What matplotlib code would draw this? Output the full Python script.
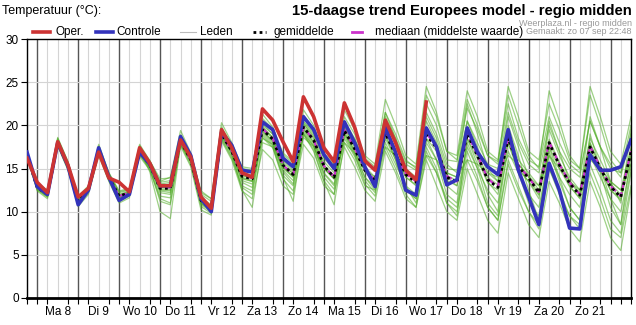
import numpy as np
import matplotlib
matplotlib.use("Agg")
import matplotlib.pyplot as plt

plt.rcParams['font.family'] = ['Liberation Sans', 'DejaVu Sans']

# 6-hourly steps, starting zo 7 sep 18:00
day_labels = ["Ma 8", "Di 9", "Wo 10", "Do 11", "Vr 12", "Za 13", "Zo 14",
              "Ma 15", "Di 16", "Wo 17", "Do 18", "Vr 19", "Za 20", "Zo 21"]

oper = [16.2, 13.4, 12.2, 18.1, 15.4, 11.7, 12.7, 16.9, 13.9, 13.4, 12.3, 17.4, 15.6,
        13.0, 13.0, 18.3, 16.3, 11.7, 10.4, 19.5, 17.4, 14.5, 14.0, 21.9, 20.6, 18.1,
        15.8, 23.3, 21.0, 17.4, 15.8, 22.6, 19.8, 15.9, 14.8, 20.6, 18.0, 14.8, 13.7, 22.7]

controle = [16.9, 12.9, 12.0, 18.0, 15.3, 10.8, 12.5, 17.4, 14.0, 11.3, 12.0, 16.9, 15.5,
            13.0, 13.0, 18.7, 16.5, 11.5, 10.0, 19.2, 17.7, 14.8, 14.6, 20.4, 19.5, 16.2,
            15.2, 21.0, 19.5, 16.6, 15.0, 20.4, 18.0, 15.2, 12.9, 19.8, 16.9, 12.5, 11.9,
            19.7, 17.5, 13.1, 13.7, 19.7, 16.9, 15.2, 14.3, 19.5, 14.8, 11.7, 8.5, 15.6,
            12.5, 8.1, 8.0, 16.6, 14.8, 14.8, 15.2, 18.3]

gemiddelde = [16.5, 12.8, 12.0, 18.0, 15.3, 11.2, 12.6, 17.0, 14.0, 11.8, 12.2, 17.0, 15.4,
              12.7, 12.7, 18.2, 16.0, 11.3, 10.4, 19.0, 17.0, 14.1, 13.8, 19.5, 18.4, 15.4,
              14.3, 19.8, 18.3, 15.3, 14.0, 19.4, 17.3, 14.8, 13.6, 19.1, 16.6, 14.3, 13.4,
              18.9, 17.4, 14.0, 13.4, 19.0, 16.5, 13.7, 12.8, 18.5, 15.2, 13.9, 12.2, 18.0,
              15.4, 13.3, 11.9, 17.5, 15.0, 12.9, 11.7, 16.9]

mediaan = [16.5, 12.8, 12.0, 18.0, 15.3, 11.2, 12.6, 17.0, 14.0, 11.8, 12.2, 17.0, 15.4,
           12.8, 12.8, 18.2, 16.0, 11.3, 10.4, 19.0, 17.0, 14.2, 13.9, 19.6, 18.5, 15.4,
           14.3, 19.8, 18.3, 15.3, 14.0, 19.5, 17.4, 14.9, 13.6, 19.2, 16.7, 14.4, 13.5,
           19.1, 17.5, 14.1, 13.5, 19.0, 16.6, 13.8, 12.9, 18.6, 15.3, 14.0, 12.3, 18.1,
           15.5, 13.4, 12.0, 17.6, 15.1, 13.0, 11.8, 17.0]

leden = [
    [16.6, 13.2, 12.4, 18.4, 15.6, 11.6, 12.9, 17.4, 14.4, 12.3, 12.6, 17.6, 15.8,
     13.4, 13.6, 18.9, 16.6, 12.0, 11.2, 19.8, 17.8, 15.0, 14.8, 20.8, 19.6, 16.6, 15.6,
     21.2, 19.6, 16.4, 15.4, 21.0, 19.0, 16.2, 15.2, 21.5, 18.5, 15.8, 15.2, 22.5, 20.0,
     16.0, 15.8, 22.0, 19.5, 16.5, 15.8, 22.5, 18.5, 16.0, 15.2, 21.0, 18.0, 15.5, 14.5,
     20.5, 17.5, 15.5, 14.0, 19.0],
    [16.3, 12.4, 11.5, 17.6, 14.8, 10.6, 12.0, 16.5, 13.5, 11.0, 11.6, 16.4, 14.8,
     11.5, 11.0, 17.6, 15.2, 10.2, 9.6, 18.2, 16.0, 12.4, 11.5, 17.2, 16.0, 13.0, 12.0,
     17.8, 16.2, 13.0, 12.0, 17.5, 15.2, 12.5, 11.2, 17.0, 14.5, 11.5, 10.5, 16.5, 14.5,
     11.0, 10.0, 16.0, 13.5, 10.5, 9.0, 15.5, 12.5, 10.0, 8.0, 15.0, 12.0, 9.5, 8.5,
     14.5, 11.5, 8.0, 7.0, 13.0],
    [16.4, 12.6, 11.8, 18.2, 15.2, 11.0, 12.4, 17.2, 13.8, 11.4, 12.0, 17.2, 14.6,
     10.0, 9.2, 17.8, 15.8, 11.0, 10.2, 19.2, 16.8, 12.5, 10.5, 18.0, 17.5, 14.0, 11.2,
     19.0, 17.0, 13.5, 10.8, 18.0, 16.0, 13.0, 12.5, 19.5, 17.0, 13.0, 11.0, 17.5, 15.0,
     11.0, 9.5, 18.5, 15.5, 12.0, 10.0, 20.0, 16.5, 12.5, 9.0, 17.0, 13.5, 10.5, 9.0,
     19.0, 15.0, 11.5, 8.5, 15.0],
    [16.7, 13.0, 12.2, 17.9, 15.4, 11.4, 12.7, 17.0, 14.2, 12.0, 12.4, 17.2, 15.6,
     13.2, 13.4, 18.5, 16.4, 11.6, 10.8, 19.5, 17.4, 14.6, 14.2, 20.2, 19.0, 16.0, 14.8,
     20.5, 19.2, 16.2, 14.8, 20.5, 18.5, 15.8, 14.8, 21.5, 19.0, 16.0, 15.0, 23.5, 21.0,
     17.0, 16.5, 24.0, 21.0, 17.0, 16.0, 23.5, 20.0, 16.5, 15.0, 24.0, 20.5, 16.5, 15.0,
     23.5, 20.0, 16.0, 14.5, 20.0],
    [16.5, 12.7, 11.8, 18.1, 15.2, 11.1, 12.5, 16.9, 13.9, 11.6, 12.1, 16.9, 15.2,
     12.4, 12.2, 18.0, 15.9, 11.0, 10.0, 18.8, 16.6, 13.6, 13.2, 19.2, 18.0, 14.8, 13.6,
     19.2, 17.6, 14.5, 13.2, 18.5, 16.4, 13.6, 12.2, 17.5, 15.0, 12.0, 10.5, 16.0, 13.0,
     10.0, 9.0, 15.0, 12.0, 9.0, 7.5, 14.5, 11.5, 8.5, 7.0, 13.5, 11.0, 8.0, 6.5,
     13.5, 10.5, 7.0, 5.5, 12.5],
    [16.6, 12.9, 12.1, 18.0, 15.3, 11.3, 12.7, 17.1, 14.1, 11.9, 12.3, 17.1, 15.5,
     13.0, 13.2, 18.4, 16.2, 11.6, 10.6, 19.0, 17.2, 14.4, 14.0, 19.8, 18.6, 15.8, 14.6,
     20.2, 18.8, 15.8, 14.5, 19.8, 17.8, 15.2, 14.0, 20.0, 17.0, 14.5, 13.8, 20.5, 18.0,
     14.5, 14.0, 20.5, 17.5, 14.5, 13.5, 19.5, 16.0, 14.5, 13.0, 19.5, 16.5, 14.0, 12.5,
     18.5, 16.0, 13.5, 12.5, 17.5],
    [16.4, 12.9, 12.1, 17.8, 15.1, 11.2, 12.5, 16.8, 14.0, 11.8, 12.1, 16.6, 15.2,
     12.8, 12.6, 17.8, 16.0, 11.5, 10.5, 18.6, 16.8, 13.8, 13.5, 18.5, 17.8, 15.0, 14.0,
     18.6, 17.5, 15.0, 13.8, 18.0, 16.8, 14.8, 14.0, 17.5, 16.5, 14.5, 13.8, 16.5, 16.0,
     14.5, 14.0, 16.0, 15.5, 14.5, 14.0, 16.5, 15.5, 14.0, 13.0, 16.5, 15.0, 13.5, 12.5,
     16.0, 15.0, 13.5, 12.5, 15.5],
    [16.5, 13.1, 12.3, 18.6, 15.8, 11.5, 12.8, 17.8, 14.5, 12.2, 12.5, 17.8, 15.9,
     13.5, 14.0, 19.4, 16.8, 12.4, 11.5, 20.3, 18.0, 15.2, 15.0, 21.3, 19.8, 16.8, 15.8,
     21.8, 20.0, 16.8, 15.5, 21.8, 19.5, 16.5, 15.5, 23.0, 20.0, 16.5, 15.5, 24.5, 21.5,
     17.0, 16.0, 23.0, 20.0, 16.5, 15.5, 24.5, 21.0, 17.0, 16.0, 22.5, 19.5, 16.0, 15.0,
     24.5, 21.0, 17.0, 15.5, 21.0],
    [16.5, 12.5, 11.7, 17.7, 14.9, 10.8, 12.2, 16.7, 13.6, 11.2, 11.8, 16.6, 14.9,
     11.8, 11.6, 17.8, 15.4, 10.6, 9.8, 18.4, 16.2, 12.8, 12.0, 18.6, 17.4, 13.8, 12.4,
     19.0, 17.2, 13.6, 12.0, 19.0, 16.8, 13.2, 11.8, 19.0, 16.0, 12.5, 11.5, 18.5, 16.0,
     12.0, 11.0, 18.0, 15.0, 11.0, 9.5, 18.0, 14.5, 11.0, 9.5, 17.5, 14.0, 10.5, 9.0,
     17.5, 14.5, 10.5, 8.5, 16.5],
    [16.6, 13.0, 12.0, 18.2, 15.5, 11.4, 12.6, 17.2, 14.1, 11.9, 12.2, 17.2, 15.6,
     12.9, 12.8, 18.4, 16.2, 11.2, 10.2, 19.3, 17.2, 14.2, 13.8, 19.8, 18.6, 15.4, 14.4,
     20.2, 18.6, 15.2, 14.0, 19.8, 17.6, 14.8, 13.6, 19.8, 17.0, 14.0, 13.0, 19.5, 17.5,
     14.0, 13.0, 19.5, 16.5, 13.5, 12.0, 18.5, 15.0, 13.5, 11.5, 18.0, 15.5, 13.0, 11.5,
     18.0, 15.0, 12.5, 11.5, 17.0],
    [16.4, 12.8, 12.0, 18.0, 15.3, 11.1, 12.6, 17.0, 14.0, 11.7, 12.2, 16.9, 15.3,
     12.6, 12.5, 18.1, 15.9, 11.2, 10.4, 19.0, 17.0, 14.0, 13.6, 19.4, 18.2, 15.2, 14.0,
     19.6, 18.0, 15.0, 13.8, 20.0, 18.0, 15.0, 13.0, 21.0, 18.5, 15.0, 14.0, 21.5, 19.0,
     15.5, 14.5, 22.5, 19.0, 15.0, 13.5, 21.0, 17.5, 14.0, 12.0, 20.5, 17.0, 13.5, 12.0,
     21.0, 17.5, 13.5, 11.0, 19.5],
    [16.5, 12.7, 11.9, 17.9, 15.2, 11.0, 12.5, 16.9, 13.9, 11.6, 12.1, 16.8, 15.1,
     12.2, 12.0, 18.0, 15.8, 11.0, 10.1, 18.9, 16.8, 13.4, 12.8, 19.0, 17.8, 14.6, 13.2,
     19.4, 17.8, 14.4, 13.0, 19.2, 17.0, 14.0, 12.5, 18.5, 16.0, 12.5, 11.5, 17.0, 14.5,
     11.5, 10.5, 17.0, 14.0, 10.5, 9.0, 16.0, 13.0, 10.0, 8.5, 15.0, 12.5, 9.5, 8.0,
     15.5, 12.5, 9.0, 7.5, 14.5],
    [16.5, 12.9, 12.0, 18.1, 15.4, 11.3, 12.6, 17.1, 14.1, 11.9, 12.3, 17.1, 15.4,
     12.8, 12.9, 18.3, 16.1, 11.4, 10.5, 19.1, 17.1, 14.2, 13.9, 19.6, 18.5, 15.5, 14.4,
     19.9, 18.4, 15.4, 14.1, 19.5, 17.4, 14.9, 13.7, 19.3, 16.8, 14.4, 13.6, 19.2, 17.6,
     14.2, 13.6, 19.4, 16.8, 14.0, 13.1, 18.9, 15.5, 14.2, 12.5, 18.4, 15.7, 13.6, 12.2,
     17.9, 15.3, 13.2, 12.0, 17.2],
    [16.6, 12.7, 11.9, 17.9, 15.2, 11.1, 12.5, 16.9, 13.9, 11.7, 12.1, 16.9, 15.3,
     12.5, 12.4, 18.1, 15.9, 11.2, 10.3, 18.9, 16.9, 13.9, 13.5, 19.3, 18.2, 15.2, 14.1,
     19.6, 18.1, 15.1, 13.8, 19.1, 17.1, 14.6, 13.4, 18.8, 16.3, 14.0, 13.1, 18.5, 17.0,
     13.6, 13.0, 18.5, 16.1, 13.3, 12.5, 18.0, 14.9, 13.5, 11.9, 17.5, 15.0, 12.9, 11.6,
     17.0, 14.7, 12.5, 11.3, 16.5],
    [16.7, 13.3, 12.5, 18.5, 15.8, 11.8, 13.0, 17.6, 14.5, 12.4, 12.7, 17.6, 15.9,
     13.8, 13.9, 18.8, 16.5, 12.2, 11.5, 19.6, 17.6, 14.8, 14.6, 20.0, 19.0, 16.3, 15.2,
     20.4, 19.0, 16.3, 15.2, 20.2, 18.4, 15.8, 15.0, 20.5, 18.0, 15.5, 14.8, 21.0, 18.5,
     15.0, 14.8, 20.5, 18.0, 15.5, 15.0, 21.5, 18.0, 15.5, 14.5, 20.0, 17.0, 15.0, 14.0,
     20.5, 17.5, 15.0, 14.5, 18.5],
    [16.4, 12.6, 11.7, 17.7, 15.0, 10.8, 12.3, 16.8, 13.7, 11.4, 11.9, 16.7, 15.0,
     11.2, 10.8, 17.9, 15.6, 10.8, 10.0, 18.5, 16.4, 13.0, 12.4, 18.8, 17.6, 14.2, 13.0,
     19.0, 17.6, 14.0, 12.6, 18.8, 16.6, 14.0, 12.8, 18.0, 15.5, 13.0, 12.0, 18.0, 16.0,
     13.0, 12.0, 17.5, 15.0, 12.5, 11.0, 17.0, 14.5, 12.0, 10.5, 16.5, 14.0, 12.0, 10.5,
     16.5, 14.0, 11.5, 10.0, 15.5],
]

n_steps = len(controle)
x = np.arange(n_steps)

fig = plt.figure(figsize=(6.36, 3.25), dpi=100)
ax = fig.add_axes([27 / 636, 1 - 298 / 325, 604 / 636, 259 / 325])

# grid: light line every 6 hours, dark line at midnight
for i in x:
    if (i - 1) % 4 == 0:
        ax.axvline(i, color='#555555', lw=1.0, zorder=1)
    else:
        ax.axvline(i, color='#d4d4d4', lw=0.8, zorder=1)
for v in range(5, 30, 5):
    ax.axhline(v, color='#d4d4d4', lw=0.8, zorder=1)

for member in leden:
    ax.plot(x, member, color='#4fac24', lw=0.9, alpha=0.55, zorder=2)

ax.plot(x, mediaan, color='#cc33cc', lw=1.6, dashes=(3, 2), zorder=3)
ax.plot(x, gemiddelde, color='black', lw=2.0, dashes=(1, 1.2), zorder=4)
ax.plot(x, controle, color='#3333bb', lw=2.6, zorder=5)
ax.plot(np.arange(len(oper)), oper, color='#cc3333', lw=2.6, zorder=6)

ax.set_xlim(0, n_steps - 1)
ax.set_ylim(0, 30)
ax.set_yticks(range(0, 31, 5))
ax.tick_params(axis='y', labelsize=8.5, length=4, width=0.8, pad=2)
ax.set_xticks(x, minor=True)
ax.set_xticks([3 + 4 * k for k in range(len(day_labels))])
ax.set_xticklabels(day_labels)
ax.tick_params(axis='x', which='major', length=0, labelsize=8.5, pad=6)
ax.tick_params(axis='x', which='minor', length=4, width=0.8)
for side in ['left', 'right', 'top']:
    ax.spines[side].set_linewidth(1.0)
ax.spines['bottom'].set_linewidth(2.0)

fig.text(2 / 636, 1 - 11 / 325, "Temperatuur (°C):", fontsize=9, va='center', ha='left')
fig.text(632 / 636, 1 - 11 / 325, "15-daagse trend Europees model - regio midden",
         fontsize=10.7, fontweight='bold', va='center', ha='right')
fig.text(632 / 636, 1 - 23 / 325, "Weerplaza.nl - regio midden", fontsize=6.5,
         color='#999999', va='center', ha='right')
fig.text(632 / 636, 1 - 32 / 325, "Gemaakt: zo 07 sep 22:48", fontsize=6.5,
         color='#999999', va='center', ha='right')

# legend row
ly = 1 - 32 / 325
legend_items = [
    (33, 50, 55, "Oper.", dict(color='#cc3333', lw=2.6)),
    (96, 113, 116, "Controle", dict(color='#3333bb', lw=2.6)),
    (180, 196, 200, "Leden", dict(color='#bbbbbb', lw=0.8)),
    (253, 266, 273, "gemiddelde", dict(color='black', lw=2.0, dashes=(1, 1.2))),
    (352, 362, 375, "mediaan (middelste waarde)", dict(color='#cc33cc', lw=2.0)),
]
for x0, x1, tx, label, style in legend_items:
    fig.add_artist(plt.Line2D([x0 / 636, x1 / 636], [ly, ly], **style))
    fig.text(tx / 636, ly, label, fontsize=8.5, va='center', ha='left')

fig.savefig("out.png", dpi=100)
